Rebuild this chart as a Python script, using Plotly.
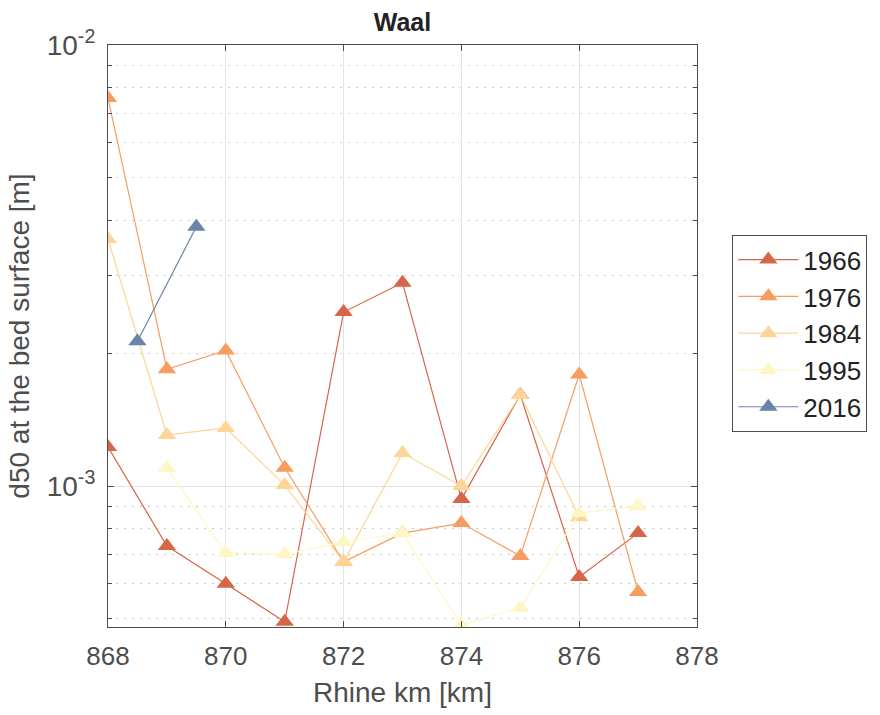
import plotly.graph_objects as go

km_main = [868, 869, 870, 871, 872, 873, 874, 875, 876, 877]
d50_1966 = [1.226e-3, 7.31e-4, 6.0e-4, 4.92e-4, 2.48e-3, 2.89e-3, 9.34e-4, 1.61e-3, 6.22e-4, 7.82e-4]
d50_1976 = [7.58e-3, 1.84e-3, 2.03e-3, 1.10e-3, 6.73e-4, 7.82e-4, 8.24e-4, 6.94e-4, 1.79e-3, 5.75e-4]
km_1984 = [868, 869, 870, 871, 872, 873, 874, 875, 876]
d50_1984 = [3.63e-3, 1.305e-3, 1.354e-3, 1.005e-3, 6.73e-4, 1.188e-3, 1.0e-3, 1.608e-3, 8.5e-4]
km_1995 = [869, 870, 871, 872, 873, 874, 875, 876, 877]
d50_1995 = [1.099e-3, 7.05e-4, 7.0e-4, 7.47e-4, 7.82e-4, 4.84e-4, 5.29e-4, 8.68e-4, 9.0e-4]
km_2016 = [868.5, 869.5]
d50_2016 = [2.13e-3, 3.87e-3]

series = [
    ("1966", km_main, d50_1966, "#d6654a"),
    ("1976", km_main, d50_1976, "#f79d62"),
    ("1984", km_1984, d50_1984, "#fdd597"),
    ("1995", km_1995, d50_1995, "#fef7c4"),
    ("2016", km_2016, d50_2016, "#6a84a9"),
]

x_ticks = [868, 870, 872, 874, 876, 878]
y_ticks = [1e-3, 1e-2]
y_ticktext = ["10<sup>-3</sup>", "10<sup>-2</sup>"]
y_minor = [5e-4, 6e-4, 7e-4, 8e-4, 9e-4, 2e-3, 3e-3, 4e-3, 5e-3, 6e-3, 7e-3, 8e-3, 9e-3]

fig = go.Figure()
for name, x, y, c in series:
    fig.add_trace(go.Scatter(
        x=x, y=y, name=name, mode="lines+markers",
        line=dict(color=c, width=1.2),
        marker=dict(symbol="triangle-up", size=16, color=c, line=dict(width=0)),
    ))

axis_color = "#4d4d4d"
font_family = "Liberation Sans, Arial, Helvetica, sans-serif"
fig.update_layout(
    width=880, height=715,
    margin=dict(l=108, r=183, t=45, b=88),
    paper_bgcolor="white", plot_bgcolor="white",
    font=dict(family=font_family, size=23, color=axis_color),
    title=dict(text="<b>Waal</b>", x=0.5, xref="paper", xanchor="center",
               y=1 - 22 / 715, yanchor="middle", font=dict(size=25, color="#222222")),
    showlegend=True,
    legend=dict(x=1.06, xanchor="left", y=0.504, yanchor="middle",
                bordercolor=axis_color, borderwidth=1, bgcolor="white",
                font=dict(size=26, color="#222222"), itemwidth=60),
)
fig.update_xaxes(
    range=[868, 878], tickvals=x_ticks, ticks="inside", ticklen=6,
    tickcolor=axis_color, showline=True, linecolor=axis_color, linewidth=1.2,
    mirror="ticks", showgrid=True, gridcolor="#e3e3e3", gridwidth=1,
    zeroline=False, title=dict(text="Rhine km [km]", standoff=12),
    tickfont=dict(size=26), ticklabelstandoff=6,
)
fig.update_yaxes(
    type="log", range=[-3.3197, -2.0], tickvals=y_ticks, ticktext=y_ticktext,
    ticks="inside", ticklen=6, tickcolor=axis_color, showline=True,
    linecolor=axis_color, linewidth=1.2, mirror="ticks", showgrid=True,
    gridcolor="#e3e3e3", gridwidth=1, zeroline=False,
    title=dict(text="d50 at the bed surface [m]", standoff=8),
    tickfont=dict(size=28), ticklabelstandoff=6,
    minor=dict(tickvals=y_minor, ticks="inside", ticklen=4, tickcolor=axis_color,
               showgrid=True, gridcolor="#c8c8c8", griddash="2px,6px", gridwidth=1),
)

fig.write_html("out.html")
